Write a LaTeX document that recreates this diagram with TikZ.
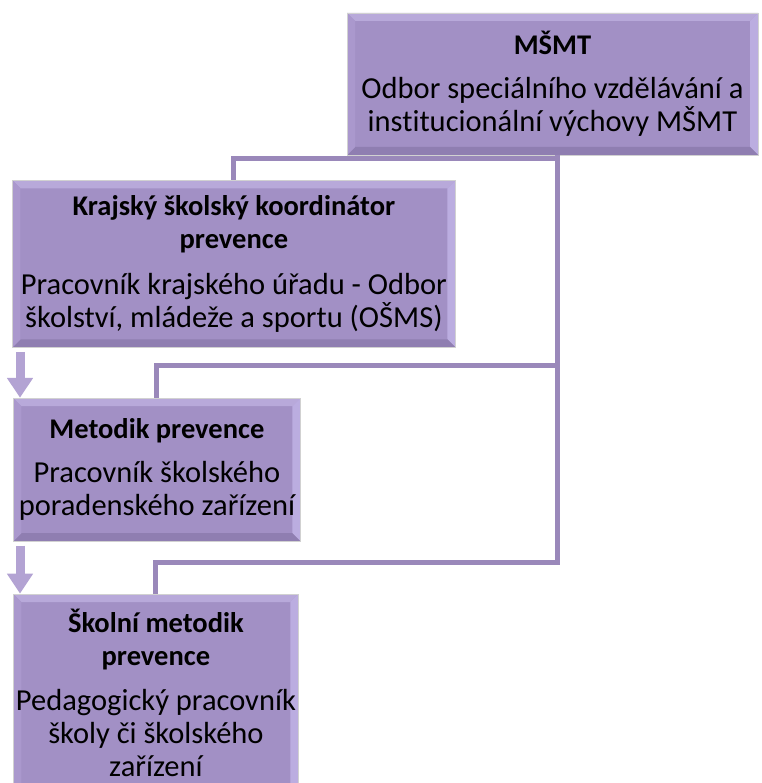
\documentclass[tikz,border=0pt]{standalone}
\usepackage{fontspec}
\setmainfont{Carlito}[Ligatures=NoCommon]
\usetikzlibrary{positioning,calc,arrows.meta}

\definecolor{boxfill}{HTML}{A290C5}
\definecolor{bevtop}{HTML}{B8A9DA}
\definecolor{bevright}{HTML}{BBADE0}
\definecolor{bevleft}{HTML}{AA98CD}
\definecolor{bevbottom}{HTML}{8F7EB1}
\definecolor{linkcol}{HTML}{9A88BA}
\definecolor{flowcol}{HTML}{B3A3D3}

\newcommand{\boxhead}[1]{{\fontsize{28.5}{33}\selectfont\bfseries #1}}

\begin{document}
\begin{tikzpicture}[x=1pt, y=-1pt,
    box/.style={rectangle, fill=boxfill, draw=black!18, line width=0.8pt, inner sep=0pt,
        align=center, font=\fontsize{30.5}{33}\selectfont,
        path picture={
            \fill[bevtop] (path picture bounding box.north west) -- (path picture bounding box.north east)
                -- ([shift={(-8pt,-8pt)}]path picture bounding box.north east)
                -- ([shift={(8pt,-8pt)}]path picture bounding box.north west) -- cycle;
            \fill[bevright] (path picture bounding box.north east) -- (path picture bounding box.south east)
                -- ([shift={(-8pt,8pt)}]path picture bounding box.south east)
                -- ([shift={(-8pt,-8pt)}]path picture bounding box.north east) -- cycle;
            \fill[bevbottom] (path picture bounding box.south west) -- (path picture bounding box.south east)
                -- ([shift={(-8pt,8pt)}]path picture bounding box.south east)
                -- ([shift={(8pt,8pt)}]path picture bounding box.south west) -- cycle;
            \fill[bevleft] (path picture bounding box.north west) -- (path picture bounding box.south west)
                -- ([shift={(8pt,8pt)}]path picture bounding box.south west)
                -- ([shift={(8pt,-8pt)}]path picture bounding box.north west) -- cycle;
        }},
    link/.style={draw=linkcol, line width=5pt},
    flow/.style={-{Triangle[width=25pt,length=20pt]}, draw=flowcol, line width=9pt, shorten <=4pt}]

    \path[use as bounding box, clip] (0,0) rectangle (761,783);

    % boxes
    \node[box, minimum width=411pt, minimum height=142pt] (msmt) at (552.5,84)
        {\boxhead{MŠMT}\\[11pt] Odbor speciálního vzdělávání a\\ institucionální výchovy MŠMT};
    \node[box, minimum width=443pt, minimum height=167pt, anchor=north west] (krajsky) at (12,180)
        {\boxhead{Krajský školský koordinátor}\\ \boxhead{prevence}\\[13pt]
         Pracovník krajského úřadu - Odbor\\ školství, mládeže a sportu (OŠMS)};
    \node[box, minimum width=287pt, minimum height=143pt, below=50pt of krajsky.south west, anchor=north west, xshift=1pt] (metodik)
        {\boxhead{Metodik prevence}\\[11pt] Pracovník školského\\ poradenského zařízení};
    \node[box, minimum width=285pt, minimum height=198pt, below=52pt of metodik.south west, anchor=north west] (skolni)
        {\boxhead{Školní metodik}\\ \boxhead{prevence}\\[12pt]
         Pedagogický pracovník\\ školy či školského\\ zařízení};

    % connectors
    \coordinate (hub) at ([xshift=4.5pt,yshift=-3pt]msmt.south);
    \draw[link] (krajsky.north) |- ([xshift=2.5pt]hub);
    \draw[link] (msmt.south -| hub) |- ([yshift=32pt]metodik.north) -- (metodik.north);
    \draw[link] (msmt.south -| hub) |- ([yshift=31pt]skolni.north) -- (skolni.north);

    \draw[flow] ([xshift=8pt]krajsky.south west) -- ([xshift=7pt]metodik.north west);
    \draw[flow] ([xshift=7pt]metodik.south west) -- ([xshift=7pt]skolni.north west);
\end{tikzpicture}
\end{document}
